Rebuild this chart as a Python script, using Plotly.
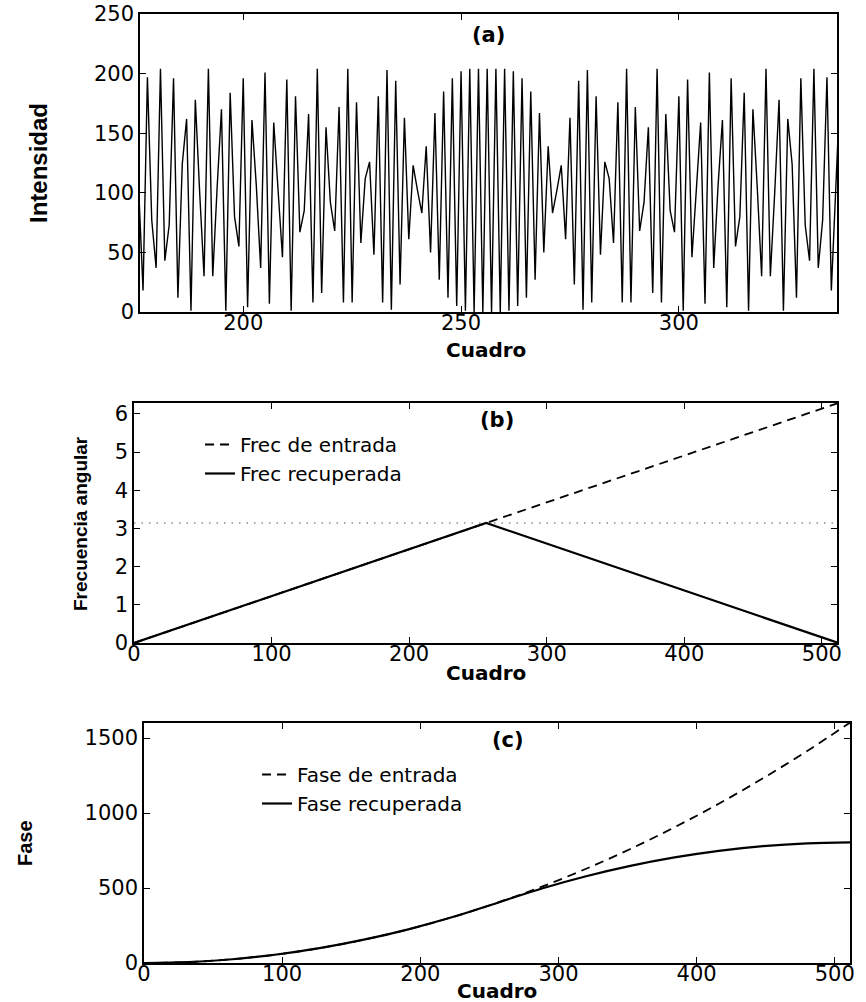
import plotly.graph_objects as go

# ---------------- data ----------------
frames_a = list(range(175, 338))
intensity = [
    187, 102, 18, 197, 77, 37, 204, 43, 73, 196,      # 175-184
    12, 124, 162, 1, 178, 100, 30, 204, 30, 104,      # 185-194
    170, 1, 184, 80, 55, 196, 4, 161, 106, 37,        # 195-204
    201, 7, 159, 102, 46, 195, 1, 181, 67, 85,        # 205-214
    166, 8, 204, 16, 155, 92, 68, 172, 8, 204,        # 215-224
    8, 176, 58, 112, 126, 48, 181, 8, 203, 2,         # 225-234
    194, 23, 163, 61, 123, 102, 83, 139, 50, 167,     # 235-244
    27, 185, 12, 196, 5, 202, 1, 204, 0, 204,         # 245-254
    0, 204, 0, 204, 0, 204, 1, 202, 5, 196,           # 255-264
    12, 185, 27, 167, 50, 139, 83, 102, 123, 61,      # 265-274
    163, 23, 194, 2, 203, 8, 181, 48, 126, 112,       # 275-284
    58, 176, 8, 204, 8, 172, 68, 92, 155, 16,         # 285-294
    204, 8, 166, 85, 67, 181, 1, 195, 46, 102,        # 295-304
    159, 7, 201, 37, 106, 161, 4, 196, 55, 80,        # 305-314
    184, 1, 170, 104, 30, 204, 30, 100, 178, 1,       # 315-324
    162, 124, 12, 196, 73, 43, 204, 37, 77, 197,      # 325-334
    18, 102, 187,                                     # 335-337
]

frames_b = [0, 256, 512]
freq_in = [0.0, 3.1416, 6.2832]
freq_rec = [0.0, 3.1416, 0.0]
pi_frames = [0, 512]
pi_level = [3.1416, 3.1416]

frames_c = [0, 32, 64, 96, 128, 160, 192, 224, 256, 288, 320, 352, 384, 416, 448, 480, 512]
phase_in = [0, 6.3, 25.1, 56.5, 100.5, 157.1, 226.2, 307.9, 402.1, 508.9, 628.3,
            760.3, 904.8, 1061.9, 1231.5, 1413.7, 1608.5]
phase_rec = [0, 6.3, 25.1, 56.5, 100.5, 157.1, 226.2, 307.9, 402.1, 496.4, 578.1,
             647.2, 703.7, 747.7, 779.1, 798.0, 804.2]

# ---------------- style ----------------
W, H = 866, 1002
SANS = "DejaVu Sans, Liberation Sans, Arial"
TICK_FONT = dict(family=SANS, size=21, color="black")
XT_FONT = dict(family=SANS, size=20, color="black", weight="bold")
YT_FAMILY = "Liberation Sans, Arial"
LEG_FONT = dict(family=SANS, size=20, color="black")
PANEL_FONT = dict(family=SANS, size=21, color="black", weight="bold")


def px_dom_x(a, b):
    return [a / W, b / W]


def px_dom_y(top, bottom):
    return [1 - bottom / H, 1 - top / H]


def px_x(v):
    return v / W


def px_y(v):
    return 1 - v / H


def axis_common(is_x):
    d = dict(
        showline=True, linecolor="black", linewidth=1.5, mirror="allticks",
        ticks="inside", ticklen=6, tickwidth=1, tickcolor="black",
        showgrid=False, zeroline=False, tickfont=TICK_FONT, automargin=False,
    )
    d["ticklabelstandoff"] = -9 if is_x else 0
    return d


fig = go.Figure()

# (a)
fig.add_trace(go.Scatter(x=frames_a, y=intensity, mode="lines",
                         line=dict(color="black", width=1.4), showlegend=False,
                         xaxis="x", yaxis="y"))
# (b)
fig.add_trace(go.Scatter(x=pi_frames, y=pi_level, mode="lines",
                         line=dict(color="#555", width=1.2, dash="1.5px,6px"), showlegend=False,
                         xaxis="x2", yaxis="y2"))
fig.add_trace(go.Scatter(x=frames_b, y=freq_in, mode="lines", name="Frec de entrada",
                         line=dict(color="black", width=1.8, dash="9px,6px"),
                         xaxis="x2", yaxis="y2", legend="legend"))
fig.add_trace(go.Scatter(x=frames_b, y=freq_rec, mode="lines", name="Frec recuperada",
                         line=dict(color="black", width=2.2),
                         xaxis="x2", yaxis="y2", legend="legend"))
# (c)
fig.add_trace(go.Scatter(x=frames_c, y=phase_in, mode="lines", name="Fase de entrada",
                         line=dict(color="black", width=1.8, dash="9px,6px", shape="spline"),
                         xaxis="x3", yaxis="y3", legend="legend2"))
fig.add_trace(go.Scatter(x=frames_c, y=phase_rec, mode="lines", name="Fase recuperada",
                         line=dict(color="black", width=2.2, shape="spline"),
                         xaxis="x3", yaxis="y3", legend="legend2"))

fig.update_layout(
    width=W, height=H,
    margin=dict(l=0, r=0, t=0, b=0),
    paper_bgcolor="white", plot_bgcolor="white",
    xaxis=dict(**axis_common(True), domain=px_dom_x(140, 837), range=[176.3, 336.3],
               tickvals=[200, 250, 300], anchor="y"),
    yaxis=dict(**axis_common(False), domain=px_dom_y(14, 312), range=[0, 250],
               tickvals=[0, 50, 100, 150, 200, 250], anchor="x"),
    xaxis2=dict(**axis_common(True), domain=px_dom_x(134, 837), range=[0, 511],
                tickvals=[0, 100, 200, 300, 400, 500], anchor="y2"),
    yaxis2=dict(**axis_common(False), domain=px_dom_y(403, 643), range=[0, 6.2832],
                tickvals=[0, 1, 2, 3, 4, 5, 6], anchor="x2"),
    xaxis3=dict(**axis_common(True), domain=px_dom_x(144, 850), range=[0, 511],
                tickvals=[0, 100, 200, 300, 400, 500], anchor="y3"),
    yaxis3=dict(**axis_common(False), domain=px_dom_y(723, 963), range=[0, 1600],
                tickvals=[0, 500, 1000, 1500], anchor="x3"),
    legend=dict(x=px_x(200), y=px_y(425), xanchor="left", yanchor="top",
                bgcolor="rgba(0,0,0,0)", font=LEG_FONT, borderwidth=0,
                tracegroupgap=0),
    legend2=dict(x=px_x(257), y=px_y(755), xanchor="left", yanchor="top",
                 bgcolor="rgba(0,0,0,0)", font=LEG_FONT, borderwidth=0,
                 tracegroupgap=0),
)

annotations = [
    # panel labels
    dict(text="(a)", x=px_x(488), y=px_y(35), font=PANEL_FONT),
    dict(text="(b)", x=px_x(497), y=px_y(420), font=PANEL_FONT),
    dict(text="(c)", x=px_x(508), y=px_y(740), font=PANEL_FONT),
    # x axis titles
    dict(text="Cuadro", x=px_x(486), y=px_y(350), font=XT_FONT),
    dict(text="Cuadro", x=px_x(486), y=px_y(673), font=XT_FONT),
    dict(text="Cuadro", x=px_x(497), y=px_y(991), font=XT_FONT),
    # y axis titles
    dict(text="Intensidad", x=px_x(39), y=px_y(163), textangle=-90,
         font=dict(family=YT_FAMILY, size=24, color="black", weight="bold")),
    dict(text="Frecuencia angular", x=px_x(80), y=px_y(524), textangle=-90,
         font=dict(family=YT_FAMILY, size=19, color="black", weight="bold")),
    dict(text="Fase", x=px_x(25), y=px_y(843), textangle=-90,
         font=dict(family=YT_FAMILY, size=20, color="black", weight="bold")),
]
for a in annotations:
    a.update(xref="paper", yref="paper", showarrow=False,
             xanchor="center", yanchor="middle")
fig.update_layout(annotations=annotations)

fig.write_html("out.html")
